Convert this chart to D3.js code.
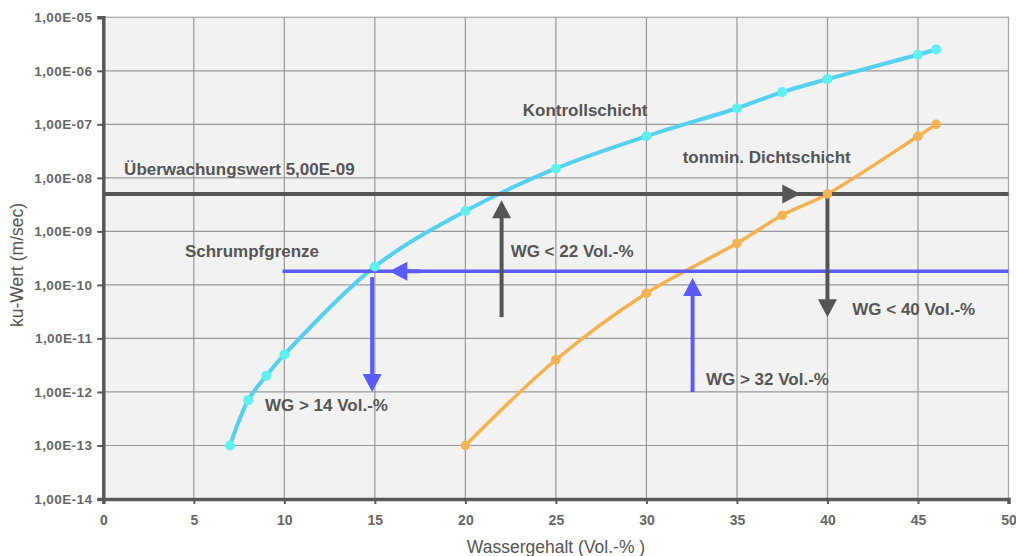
<!DOCTYPE html>
<html>
<head>
<meta charset="utf-8">
<script src="https://cdn.jsdelivr.net/npm/d3@7"></script>
<style>
  html, body { margin: 0; padding: 0; background: #fff; }
  svg { display: block; font-family: "Liberation Sans", Arial, sans-serif; }
</style>
</head>
<body>
<svg id="chart" width="1016" height="556"></svg>
<script>
// Wassergehalt (Vol.-%) ticks and ku-Wert decade ticks
const xTicks = [0, 5, 10, 15, 20, 25, 30, 35, 40, 45, 50];
const yTicks = [1e-14, 1e-13, 1e-12, 1e-11, 1e-10, 1e-9, 1e-8, 1e-7, 1e-6, 1e-5];
const yTickLabels = ["1,00E-14", "1,00E-13", "1,00E-12", "1,00E-11", "1,00E-10",
                     "1,00E-09", "1,00E-08", "1,00E-07", "1,00E-06", "1,00E-05"];

// Kontrollschicht
const kontrollWG = [7, 8, 9, 10, 15, 20, 25, 30, 35, 37.5, 40, 45, 46];
const kontrollKu = [1e-13, 7e-13, 2e-12, 5e-12, 2.2e-10, 2.4e-9, 1.5e-8, 6e-8, 2e-7, 4e-7, 7e-7, 2e-6, 2.5e-6];

// tonmineralische Dichtschicht
const dichtWG = [20, 25, 30, 35, 37.5, 40, 45, 46];
const dichtKu = [1e-13, 4e-12, 7e-11, 6e-10, 2e-9, 5e-9, 6e-8, 1e-7];

// Grenzwerte
const ueberwachungswert = 5e-9;
const schrumpfgrenze = 1.8e-10;
const schrumpfStartWG = 9.9;

// Pfeile: [wg1, ku1, wg2, ku2] (Spitze am zweiten Punkt)
const arrowsGray = [
  [36.8, 5e-9, 38.5, 5e-9],
  [22, 2.5e-11, 22, 3.8e-9],
  [40, 4.7e-9, 40, 2.5e-11]
];
const arrowsBlue = [
  [17.5, 1.8e-10, 15.8, 1.8e-10],
  [14.85, 1.4e-10, 14.85, 1e-12],
  [32.55, 1e-12, 32.55, 1.34e-10]
];

// Beschriftungen: [text, wg, ku]
const labels = [
  ["Überwachungswert 5,00E-09", 1.15, 1.13e-8],
  ["Kontrollschicht", 23.17, 1.43e-7],
  ["tonmin. Dichtschicht", 32.0, 1.92e-8],
  ["Schrumpfgrenze", 4.51, 3.37e-10],
  ["WG < 22 Vol.-%", 22.5, 3.28e-10],
  ["WG < 40 Vol.-%", 41.37, 2.74e-11],
  ["WG > 32 Vol.-%", 33.29, 1.35e-12],
  ["WG > 14 Vol.-%", 8.93, 4.4e-13]
];

const svg = d3.select("#chart");
const plotLeft = 103.3, plotRight = 1008.5, plotTop = 17.3, plotBottom = 499;

const x = d3.scaleLinear().domain([0, 50]).range([plotLeft, plotRight]);
const y = d3.scaleLog().domain([1e-14, 1e-5]).range([plotBottom, plotTop]);

// plot background
svg.append("rect")
  .attr("x", plotLeft).attr("y", plotTop)
  .attr("width", plotRight - plotLeft).attr("height", plotBottom - plotTop)
  .attr("fill", "#f2f2f2")
  .attr("stroke", "#a8a8a8").attr("stroke-width", 1.3);

// grid
const grid = svg.append("g");
grid.selectAll("line.v").data(xTicks.slice(1, -1)).join("line").attr("class", "v")
  .attr("x1", d => x(d)).attr("x2", d => x(d))
  .attr("y1", plotTop).attr("y2", plotBottom)
  .attr("stroke", "#999").attr("stroke-width", 1.2);
grid.selectAll("line.h").data(yTicks.slice(1, -1)).join("line").attr("class", "h")
  .attr("x1", plotLeft).attr("x2", plotRight)
  .attr("y1", d => y(d)).attr("y2", d => y(d))
  .attr("stroke", "#999").attr("stroke-width", 1.2);

// axes
const yAxis = d3.axisLeft(y).tickValues(yTicks)
  .tickFormat((d, i) => yTickLabels[i]).tickSize(6).tickPadding(5);
const gy = svg.append("g").attr("transform", `translate(${plotLeft},0)`).call(yAxis);
const xAxis = d3.axisBottom(x).tickValues(xTicks).tickSize(5).tickPadding(11);
const gx = svg.append("g").attr("transform", `translate(0,${plotBottom})`).call(xAxis);

[gy, gx].forEach(g => {
  g.select(".domain").attr("stroke", "#595959").attr("stroke-width", 3.5);
  g.selectAll(".tick line").attr("stroke", "#595959").attr("stroke-width", 2);
  g.selectAll(".tick text").attr("fill", "#666").attr("font-weight", "bold")
    .attr("font-family", "Liberation Sans, Arial, sans-serif");
});
gy.selectAll(".tick text").attr("font-size", 13.5).attr("letter-spacing", 0.4);
gx.selectAll(".tick text").attr("font-size", 14);

// axis titles
svg.append("text")
  .attr("transform", `translate(23,265) rotate(-90)`)
  .attr("text-anchor", "middle")
  .attr("font-size", 17.5).attr("fill", "#555")
  .text("ku-Wert (m/sec)");
svg.append("text")
  .attr("x", 556).attr("y", 553)
  .attr("text-anchor", "middle")
  .attr("font-size", 17.5).attr("fill", "#555")
  .text("Wassergehalt (Vol.-% )");

// curves
const line = d3.line()
  .x(d => x(d[0])).y(d => y(d[1]))
  .curve(d3.curveCatmullRom.alpha(0.5));
const kontroll = kontrollWG.map((w, i) => [w, kontrollKu[i]]);
const dicht = dichtWG.map((w, i) => [w, dichtKu[i]]);

svg.append("path").datum(kontroll).attr("d", line)
  .attr("fill", "none").attr("stroke", "#56d0ef").attr("stroke-width", 4);
svg.append("path").datum(dicht).attr("d", line)
  .attr("fill", "none").attr("stroke", "#f5b04f").attr("stroke-width", 3.5);

// limit lines
svg.append("line")
  .attr("x1", x(0)).attr("x2", x(50))
  .attr("y1", y(ueberwachungswert)).attr("y2", y(ueberwachungswert))
  .attr("stroke", "#555").attr("stroke-width", 4);
svg.append("line")
  .attr("x1", x(schrumpfStartWG)).attr("x2", x(50))
  .attr("y1", y(schrumpfgrenze)).attr("y2", y(schrumpfgrenze))
  .attr("stroke", "#5b5bf7").attr("stroke-width", 3.5);

// arrows
function drawArrow(a, color) {
  const x1 = x(a[0]), y1 = y(a[1]), x2 = x(a[2]), y2 = y(a[3]);
  const len = Math.hypot(x2 - x1, y2 - y1);
  const ux = (x2 - x1) / len, uy = (y2 - y1) / len;
  const head = 18, half = 9.5;
  const bx = x2 - ux * head, by = y2 - uy * head;
  svg.append("line")
    .attr("x1", x1).attr("y1", y1).attr("x2", bx + ux).attr("y2", by + uy)
    .attr("stroke", color).attr("stroke-width", 4);
  svg.append("path")
    .attr("d", `M${x2},${y2}L${bx - uy * half},${by + ux * half}L${bx + uy * half},${by - ux * half}Z`)
    .attr("fill", color);
}
arrowsGray.forEach(a => drawArrow(a, "#555"));
arrowsBlue.forEach(a => drawArrow(a, "#5b5bf7"));

// markers
svg.append("g").selectAll("circle").data(kontroll).join("circle")
  .attr("cx", d => x(d[0])).attr("cy", d => y(d[1])).attr("r", 5)
  .attr("fill", "#5ff0f0");
svg.append("g").selectAll("circle").data(dicht).join("circle")
  .attr("cx", d => x(d[0])).attr("cy", d => y(d[1])).attr("r", 4.8)
  .attr("fill", "#f3b456");

// annotations
svg.append("g").selectAll("text").data(labels).join("text")
  .attr("x", d => x(d[1])).attr("y", d => y(d[2]))
  .attr("font-size", 17).attr("font-weight", "bold").attr("fill", "#555")
  .text(d => d[0]);
</script>
</body>
</html>
